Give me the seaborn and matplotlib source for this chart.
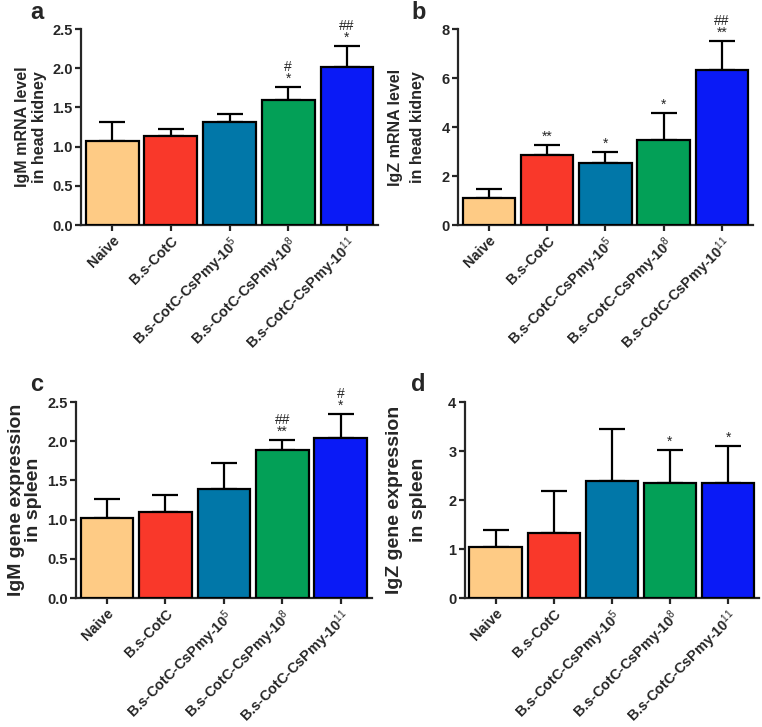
import matplotlib
matplotlib.use("Agg")
import matplotlib.pyplot as plt
import seaborn as sns
import pandas as pd

# groups and colours
GROUPS = ["Naive", "B.s-CotC", "B.s-CotC-CsPmy-10$^{5}$",
          "B.s-CotC-CsPmy-10$^{8}$", "B.s-CotC-CsPmy-10$^{11}$"]
COLORS = ["#FECB85", "#F9382A", "#0177A8", "#03A057", "#0A1AF6"]

# panel a: IgM head kidney
igm_hk_mean = [1.07, 1.13, 1.31, 1.59, 2.01]
igm_hk_sem = [0.24, 0.09, 0.11, 0.17, 0.27]
igm_hk_sig = ["", "", "", "#\n*", "##\n*"]

# panel b: IgZ head kidney
igz_hk_mean = [1.10, 2.85, 2.52, 3.45, 6.33]
igz_hk_sem = [0.35, 0.42, 0.46, 1.13, 1.17]
igz_hk_sig = ["", "**", "*", "*", "##\n**"]

# panel c: IgM spleen
igm_sp_mean = [1.02, 1.10, 1.39, 1.89, 2.04]
igm_sp_sem = [0.24, 0.21, 0.33, 0.12, 0.31]
igm_sp_sig = ["", "", "", "##\n**", "#\n*"]

# panel d: IgZ spleen
igz_sp_mean = [1.04, 1.32, 2.39, 2.34, 2.35]
igz_sp_sem = [0.34, 0.87, 1.06, 0.68, 0.75]
igz_sp_sig = ["", "", "", "*", "*"]

sns.set_style("ticks")
plt.rcParams["font.family"] = ["Liberation Sans", "DejaVu Sans"]
plt.rcParams["mathtext.fontset"] = "custom"
plt.rcParams["mathtext.rm"] = "Liberation Sans"
plt.rcParams["mathtext.it"] = "Liberation Sans:italic"
plt.rcParams["mathtext.bf"] = "Liberation Sans:bold"


def draw_panel(fig, rect, means, sems, sigs, ylabel, ymax, ystep, fmt,
               letter, label_x, label_size, label_ls):
    ax = fig.add_axes(rect)
    df = pd.DataFrame({"group": GROUPS, "value": means})
    sns.barplot(data=df, x="group", y="value", hue="group", palette=COLORS,
                legend=False, errorbar=None, saturation=1, width=0.9,
                edgecolor="black", linewidth=1.6, ax=ax, zorder=3)
    xs = range(len(means))
    ax.errorbar(xs, means, yerr=[[0] * len(sems), sems], fmt="none",
                ecolor="black", elinewidth=1.6, capsize=9.5, capthick=1.6,
                zorder=2)
    for x, m, s, t in zip(xs, means, sems, sigs):
        if t:
            ax.annotate(t, (x, m + s), xytext=(0, 1), textcoords="offset points",
                        ha="center", va="bottom", fontsize=10, linespacing=0.8)
    ax.set_xlim(-0.53, 4.53)
    ax.set_ylim(0, ymax)
    ticks = [i * ystep for i in range(int(round(ymax / ystep)) + 1)]
    ax.set_yticks(ticks)
    ax.set_yticklabels([fmt.format(t) for t in ticks], fontsize=10.5,
                       fontweight="bold")
    ax.set_xticks(list(xs))
    ax.set_xticklabels(GROUPS, rotation=45, ha="right", rotation_mode="anchor",
                       fontsize=10.4, fontweight="bold")
    ax.set_xlabel("")
    ax.set_ylabel(ylabel, fontsize=label_size, fontweight="bold",
                  linespacing=label_ls)
    ax.yaxis.set_label_coords(label_x, 0.5)
    sns.despine(ax=ax)
    for sp in ["left", "bottom"]:
        ax.spines[sp].set_linewidth(1.6)
    ax.tick_params(width=1.6, length=4, pad=2)
    ax.text(letter[1], letter[2], letter[0], transform=fig.transFigure,
            fontsize=17, fontweight="bold", va="top", ha="left")
    return ax


fig = plt.figure(figsize=(7.62, 7.27), dpi=100)

draw_panel(fig, [0.1063, 0.6905, 0.3898, 0.2696], igm_hk_mean, igm_hk_sem,
           igm_hk_sig, "IgM mRNA level\nin head kidney", 2.5, 0.5, "{:.1f}",
           ("a", 0.040, 0.998), -0.114, 11.5, 1.2)
draw_panel(fig, [0.601, 0.6905, 0.387, 0.2696], igz_hk_mean, igz_hk_sem,
           igz_hk_sig, "IgZ mRNA level\nin head kidney", 8, 2, "{:.0f}",
           ("b", 0.540, 0.998), -0.112, 11.5, 1.55)
draw_panel(fig, [0.0997, 0.1774, 0.388, 0.2696], igm_sp_mean, igm_sp_sem,
           igm_sp_sig, "IgM gene expression\nin spleen", 2.5, 0.5, "{:.1f}",
           ("c", 0.040, 0.487), -0.115, 14, 1.0)
draw_panel(fig, [0.610, 0.1774, 0.386, 0.2696], igz_sp_mean, igz_sp_sem,
           igz_sp_sig, "IgZ gene expression\nin spleen", 4, 1, "{:.0f}",
           ("d", 0.540, 0.487), -0.129, 14, 1.55)

fig.savefig("out.png", dpi=100)
